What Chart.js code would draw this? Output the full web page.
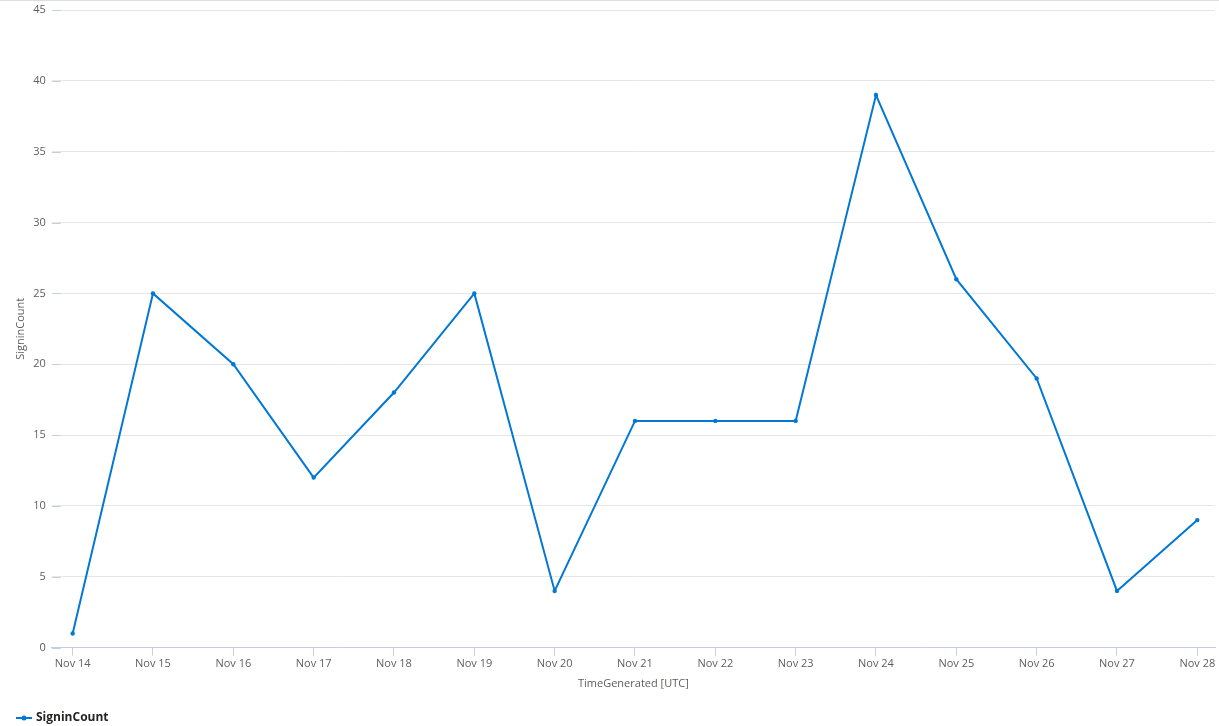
<!DOCTYPE html>
<html>
<head>
<meta charset="utf-8">
<script src="https://cdn.jsdelivr.net/npm/chart.js@4/dist/chart.umd.min.js"></script>
<style>
html,body{margin:0;padding:0;background:#fff;}
#wrap{position:relative;width:1219px;height:726px;border-top:1px solid #dedede;box-sizing:border-box;}
</style>
</head>
<body>
<div id="wrap"><canvas id="c"></canvas></div>
<script>
const categories = ["Nov 14","Nov 15","Nov 16","Nov 17","Nov 18","Nov 19","Nov 20","Nov 21","Nov 22","Nov 23","Nov 24","Nov 25","Nov 26","Nov 27","Nov 28"];
const signinCount = [1,25,20,12,18,25,4,16,16,16,39,26,19,4,9];
const yTicks = [0,5,10,15,20,25,30,35,40,45];

const BLUE = '#0078d4';
const AXIS = '#c5cfe0';
const FONT = "'Open Sans', 'Noto Sans', sans-serif";

// legend marker: line with dot
const mk = document.createElement('canvas');
mk.width = 16; mk.height = 8;
(function(){
  const g = mk.getContext('2d');
  g.strokeStyle = BLUE; g.lineWidth = 2;
  g.beginPath(); g.moveTo(0,4); g.lineTo(16,4); g.stroke();
  g.fillStyle = BLUE; g.beginPath(); g.arc(8,4,2.5,0,Math.PI*2); g.fill();
})();

const yTickMarks = {
  id:'yTickMarks',
  afterDraw(chart){
    const y = chart.scales.y, ctx = chart.ctx, left = chart.chartArea.left;
    ctx.save();
    ctx.strokeStyle = AXIS; ctx.lineWidth = 1;
    yTicks.forEach(v=>{
      const py = Math.round(y.getPixelForValue(v)) + 0.5;
      ctx.beginPath(); ctx.moveTo(left, py); ctx.lineTo(left+9, py); ctx.stroke();
    });
    ctx.restore();
  }
};

new Chart(document.getElementById('c'), {
  type:'line',
  data:{
    datasets:[{
      label:'SigninCount',
      data: signinCount.map((v,i)=>({x:i,y:v})),
      borderColor: BLUE,
      backgroundColor: BLUE,
      borderWidth: 2,
      pointRadius: 2.2,
      pointHoverRadius: 3,
      pointBorderWidth: 0,
      tension: 0
    }]
  },
  options:{
    responsive:true,
    maintainAspectRatio:false,
    animation:false,
    layout:{padding:{left:14,right:4,top:0,bottom:-8}},
    plugins:{
      tooltip:{enabled:false},
      legend:{
        position:'bottom',
        align:'start',
        labels:{
          usePointStyle:true,
          pointStyle: mk,
          boxWidth:16,
          padding:4,
          color:'#252423',
          font:{family:FONT,size:12,weight:'bold'}
        }
      }
    },
    scales:{
      x:{
        type:'linear',
        min:-0.26,
        max:14.22,
        afterBuildTicks(scale){ scale.ticks = categories.map((c,i)=>({value:i})); },
        afterFit(scale){ scale.paddingRight = 0; scale.paddingLeft = 0; },
        ticks:{
          callback:(v)=>categories[v],
          color:'#605e5c',
          font:{family:FONT,size:11},
          padding:2,
          maxRotation:0,
          autoSkip:false
        },
        grid:{drawOnChartArea:false,tickLength:8,color:AXIS,tickColor:AXIS},
        border:{display:true,color:AXIS,width:1},
        title:{display:true,text:'TimeGenerated [UTC]',color:'#605e5c',font:{family:FONT,size:11},padding:{top:4,bottom:18}}
      },
      y:{
        min:0,max:45,
        afterBuildTicks(scale){ scale.ticks = yTicks.map(v=>({value:v})); },
        afterFit(scale){ scale.paddingTop = 9; },
        ticks:{color:'#605e5c',font:{family:FONT,size:11},padding:6},
        grid:{color:'#e6e6e6',tickLength:0,drawTicks:false},
        border:{display:false},
        title:{display:true,text:'SigninCount',color:'#605e5c',font:{family:FONT,size:11},padding:{top:0,bottom:0}}
      }
    }
  },
  plugins:[yTickMarks]
});
</script>
</body>
</html>
